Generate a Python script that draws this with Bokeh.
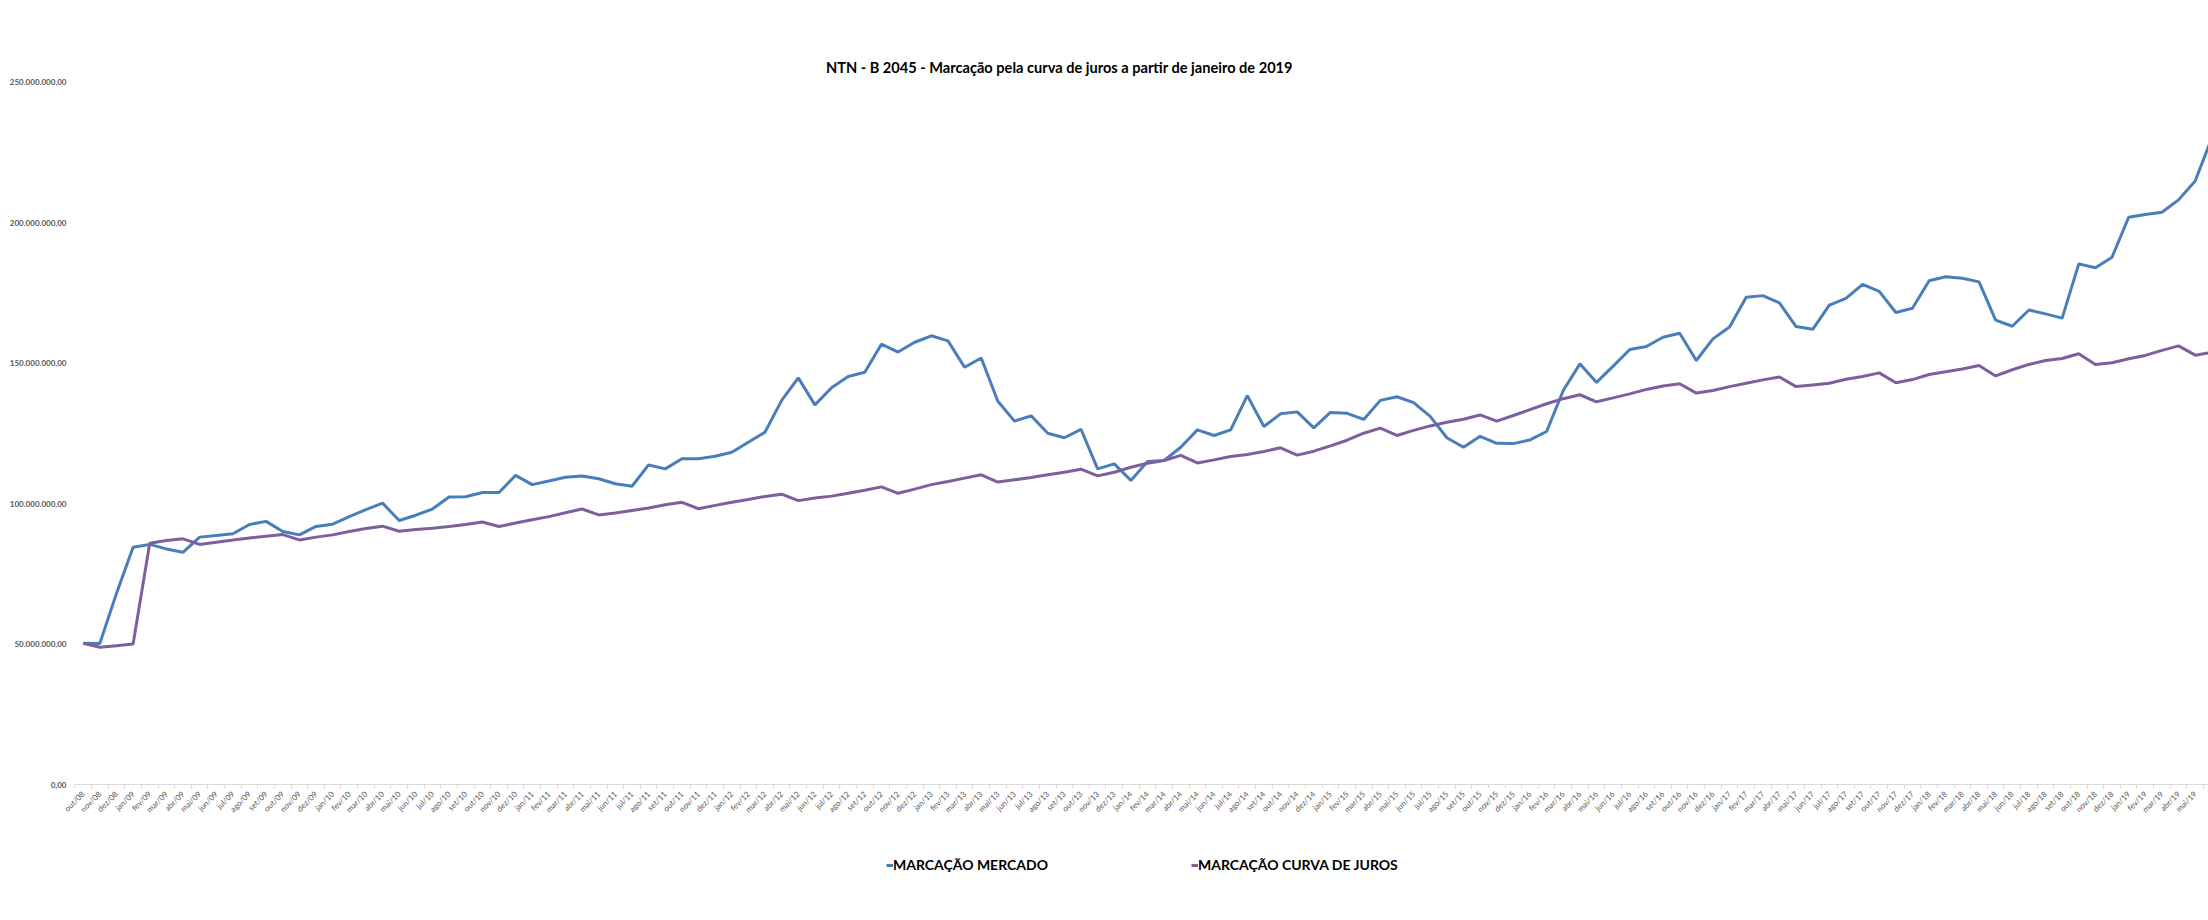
import math
from bokeh.plotting import figure
from bokeh.models import FixedTicker, Label, Legend, LegendItem, Range1d
from bokeh.embed import file_html
from bokeh.resources import INLINE

# ---------------- data ----------------
MONTHS = ["jan", "fev", "mar", "abr", "mai", "jun", "jul", "ago", "set", "out", "nov", "dez"]
YEARS = list(range(2008, 2020))
# monthly categories out/08 ... jun/19
categories = [f"{m}/{y % 100:02d}" for y in YEARS for i, m in enumerate(MONTHS)
              if (2008, 9) <= (y, i) <= (2019, 5)]

# values in R$ millions
mercado = [
    50.3, 50.2, 68.0, 84.5, 85.5, 83.9, 82.7, 88.1, 88.7, 89.3, 92.6, 93.7,
    90.1, 88.9, 91.9, 92.7, 95.4, 97.9, 100.2, 94.0, 95.9, 98.1, 102.4, 102.5,
    104.0, 104.0, 110.1, 106.8, 108.1, 109.4, 109.9, 108.9, 107.1, 106.2, 113.8, 112.4,
    116.0, 116.0, 116.9, 118.3, 121.9, 125.5, 136.8, 144.8, 135.2, 141.3, 145.3, 146.8,
    156.8, 154.0, 157.5, 159.8, 158.0, 148.6, 151.9, 136.5, 129.4, 131.3, 125.1, 123.5,
    126.5, 112.4, 114.2, 108.3, 115.0, 115.4, 120.1, 126.3, 124.3, 126.3, 138.5, 127.5,
    132.0, 132.7, 127.0, 132.5, 132.2, 130.0, 136.8, 138.1, 136.0, 131.1, 123.5, 120.1,
    124.0, 121.5, 121.4, 122.7, 125.7, 140.3, 149.8, 143.2, 149.0, 154.9, 156.0, 159.3,
    160.7, 151.0, 158.7, 162.9, 173.5, 174.1, 171.5, 163.1, 162.1, 170.7, 173.1, 178.1,
    175.6, 168.1, 169.6, 179.4, 180.8, 180.3, 179.0, 165.4, 163.2, 169.0, 167.6, 166.1,
    185.4, 184.0, 187.8, 202.0, 203.0, 203.8, 208.2, 214.9, 230.3,
]
curva_juros = [
    50.3, 48.9, 49.4, 50.0, 85.9, 86.9, 87.5, 85.5, 86.3, 87.1, 87.8, 88.4,
    89.0, 87.1, 88.1, 88.9, 90.1, 91.2, 92.0, 90.2, 90.8, 91.3, 91.9, 92.6,
    93.5, 91.9, 93.1, 94.3, 95.4, 96.8, 98.1, 96.0, 96.7, 97.6, 98.5, 99.6,
    100.5, 98.2, 99.4, 100.5, 101.5, 102.6, 103.4, 101.1, 102.0, 102.7, 103.7, 104.8,
    106.0, 103.7, 105.2, 106.8, 107.9, 109.1, 110.3, 107.7, 108.5, 109.3, 110.3, 111.2,
    112.3, 109.9, 111.2, 113.0, 114.4, 115.4, 117.2, 114.5, 115.6, 116.8, 117.5, 118.6,
    119.9, 117.3, 118.7, 120.6, 122.6, 125.1, 126.9, 124.3, 126.1, 127.7, 129.0, 130.1,
    131.6, 129.4, 131.4, 133.5, 135.6, 137.4, 138.8, 136.3, 137.7, 139.1, 140.7, 141.9,
    142.7, 139.4, 140.3, 141.7, 142.9, 144.1, 145.1, 141.7, 142.3, 142.9, 144.3, 145.3,
    146.6, 143.1, 144.2, 146.0, 147.0, 148.0, 149.2, 145.5, 147.7, 149.6, 151.0, 151.7,
    153.4, 149.6, 150.2, 151.6, 152.8, 154.6, 156.2, 152.9, 153.9,
]

Y_TICKS = [0, 50, 100, 150, 200, 250]
Y_TICK_LABELS = ["0,00", "50.000.000,00", "100.000.000,00", "150.000.000,00",
                 "200.000.000,00", "250.000.000,00"]

TITLE = "NTN - B 2045 - Marcação pela curva de juros a partir de janeiro de 2019"
SERIES_NAMES = ["MARCAÇÃO MERCADO", "MARCAÇÃO CURVA DE JUROS"]

# ---------------- figure ----------------
n = len(categories)
xs = list(range(n))
FONT = "Lato"
GRAY = "#595959"
AXIS_GRAY = "#D9D9D9"

# frame spans the canvas height (title and legend are drawn inside it);
# the value axis runs 0 .. 250 between canvas y = 784 and y = 82
p = figure(width=2208, height=920, output_backend="svg", toolbar_location=None, title=None,
           x_range=Range1d(-1.606, 127.80), y_range=Range1d(-32.76, 279.20),
           min_border_left=56, min_border_right=0, min_border_top=0, min_border_bottom=44)
p.outline_line_color = None
p.xgrid.grid_line_color = None
p.ygrid.grid_line_color = None
p.background_fill_color = "white"
p.border_fill_color = "white"

# category axis line (spans the category bands only)
p.segment(x0=[-0.5], y0=[0], x1=[n - 0.5], y1=[0], line_color=AXIS_GRAY, line_width=1)

r1 = p.line(xs, mercado, line_color="#4A7EBB", line_width=3)
r2 = p.line(xs, curva_juros, line_color="#7D5FA0", line_width=3)

# x axis (category axis drawn at value 0)
p.xaxis.fixed_location = 0
p.xaxis.ticker = FixedTicker(ticks=xs, minor_ticks=[i - 0.5 for i in range(n + 1)])
p.xaxis.major_label_overrides = {i: c for i, c in enumerate(categories)}
p.xaxis.major_label_orientation = math.pi / 4
p.xaxis.major_tick_line_color = None
p.xaxis.major_tick_out = 0
p.xaxis.major_tick_in = 0
p.xaxis.minor_tick_line_color = AXIS_GRAY
p.xaxis.minor_tick_out = 4
p.xaxis.minor_tick_in = 0
p.xaxis.axis_line_color = None
p.xaxis.major_label_standoff = 4
p.xaxis.major_label_text_font = FONT
p.xaxis.major_label_text_font_size = "8px"
p.xaxis.major_label_text_color = GRAY

# y axis
p.yaxis.ticker = FixedTicker(ticks=Y_TICKS)
p.yaxis.major_label_overrides = {t: l for t, l in zip(Y_TICKS, Y_TICK_LABELS)}
p.yaxis.axis_line_color = None
p.yaxis.major_tick_line_color = None
p.yaxis.minor_tick_line_color = None
p.yaxis.major_tick_out = 0
p.yaxis.major_tick_in = 0
p.yaxis.major_label_standoff = -10
p.yaxis.major_label_text_font = FONT
p.yaxis.major_label_text_font_size = "8px"
p.yaxis.major_label_text_font_style = "bold"
p.yaxis.major_label_text_color = GRAY

# title
p.add_layout(Label(x=58.7, y=255.34, text=TITLE, text_align="center", text_baseline="middle",
                   text_font=FONT, text_font_size="14.6px", text_font_style="bold",
                   text_color="black"))

# legend: one horizontal legend, fixed item width so the 2nd entry starts where it does
leg = Legend(items=[LegendItem(label=SERIES_NAMES[0], renderers=[r1]),
                    LegendItem(label=SERIES_NAMES[1], renderers=[r2])],
             location=(830, 3), orientation="horizontal", glyph_width=7, glyph_height=16,
             label_standoff=0, label_width=298, spacing=0, padding=0, margin=0,
             border_line_color=None, background_fill_alpha=0,
             label_text_font=FONT, label_text_font_size="14px",
             label_text_font_style="bold", label_text_color="black", label_height=16)
p.add_layout(leg)

open("out.html", "w").write(file_html(p, INLINE))
